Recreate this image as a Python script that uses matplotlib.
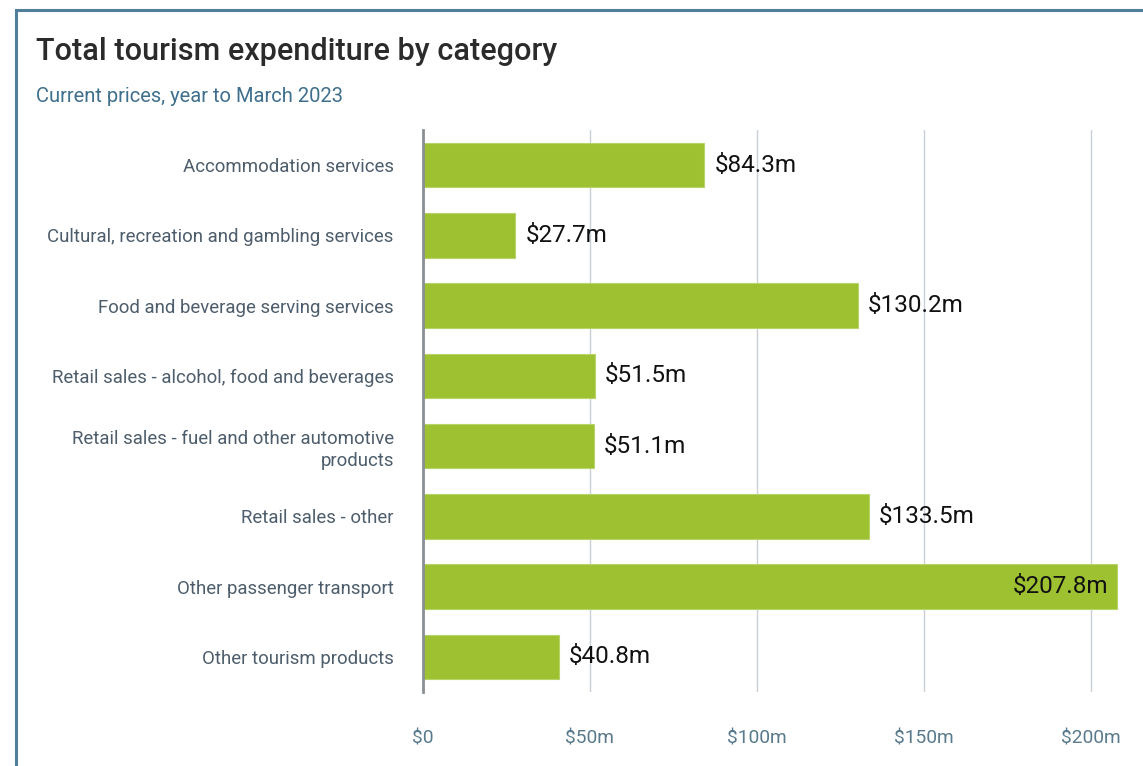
import matplotlib
matplotlib.use("Agg")
import matplotlib.pyplot as plt
from matplotlib.lines import Line2D

categories = [
    "Accommodation services",
    "Cultural, recreation and gambling services",
    "Food and beverage serving services",
    "Retail sales - alcohol, food and beverages",
    "Retail sales - fuel and other automotive\nproducts",
    "Retail sales - other",
    "Other passenger transport",
    "Other tourism products",
]
values = [84.3, 27.7, 130.2, 51.5, 51.1, 133.5, 207.8, 40.8]
value_labels = ["$84.3m", "$27.7m", "$130.2m", "$51.5m", "$51.1m", "$133.5m", "$207.8m", "$40.8m"]
tick_values = [0, 50, 100, 150, 200]
tick_labels = ["$0", "$50m", "$100m", "$150m", "$200m"]

W, H = 1143, 766
fig = plt.figure(figsize=(W / 100, H / 100), dpi=100)
fig.patch.set_facecolor("white")

# panel border (left and top edges)
frame_col = "#4f7f9a"
fig.add_artist(Line2D([16 / W, 16 / W], [0, 1 - 10 / H], color=frame_col, lw=2.2, transform=fig.transFigure))
fig.add_artist(Line2D([16 / W, 1], [1 - 10 / H, 1 - 10 / H], color=frame_col, lw=2.2, transform=fig.transFigure))

x0, x1 = 423, 1124
y_top, y_bot = 130, 692
ax = fig.add_axes([x0 / W, 1 - y_bot / H, (x1 - x0) / W, (y_bot - y_top) / H])

ypos = list(range(len(categories)))
bar_col = "#9ec132"
ax.barh(ypos, values, height=0.63, color=bar_col, edgecolor="#b6d46a", linewidth=0.8, zorder=3)
ax.set_xlim(0, 210)
ax.set_ylim(len(categories) - 0.5, -0.5)

ax.set_xticks(tick_values)
ax.set_xticklabels(tick_labels, fontfamily="Roboto", fontsize=13.8, color="#587a8c")
ax.tick_params(axis="x", length=0, pad=27)
ax.set_yticks(ypos)
ax.set_yticklabels(categories, fontfamily="Roboto", fontsize=13.4, color="#4d5d6b",
                   linespacing=1.3)
ax.tick_params(axis="y", length=0, pad=21)

ax.grid(axis="x", color="#c8cfd6", lw=1.0, zorder=0)
for s in ["top", "right", "bottom"]:
    ax.spines[s].set_visible(False)
ax.spines["left"].set_color("#8a8f94")
ax.spines["left"].set_linewidth(2.0)
ax.spines["left"].set_zorder(4)

for y, v, lab in zip(ypos, values, value_labels):
    if v > 190:
        ax.text(v - 2.5, y, lab, ha="right", va="center", fontfamily="Roboto", fontsize=17.5, color="#111111", zorder=5)
    else:
        ax.text(v + 3.0, y, lab, ha="left", va="center", fontfamily="Roboto", fontsize=17.5, color="#111111", zorder=5)

fig.text(36 / W, 1 - 52 / H, "Total tourism expenditure by category", fontfamily="Roboto", fontweight="medium",
         fontsize=22.1, color="#2b2b2b", va="center", ha="left")
fig.text(36 / W, 1 - 96 / H, "Current prices, year to March 2023", fontfamily="Roboto", fontsize=14.5,
         color="#3f6f8c", va="center", ha="left")

fig.savefig("out.png", dpi=100, facecolor="white")
